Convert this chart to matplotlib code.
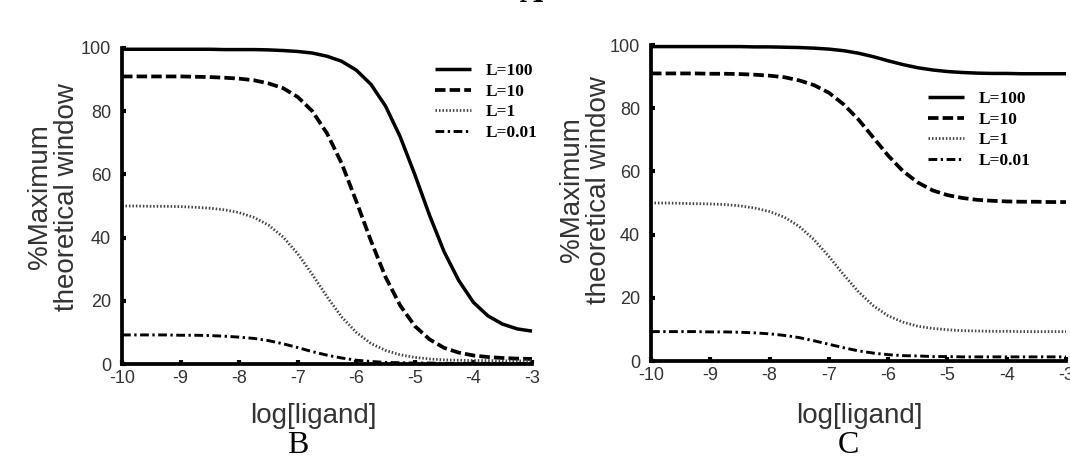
import matplotlib
matplotlib.use("Agg")
import matplotlib.pyplot as plt

plt.rcParams['axes.unicode_minus'] = False
plt.rcParams['font.family'] = ['Liberation Sans', 'DejaVu Sans']

# ---------------- data ----------------
log_ligand = [-10.0, -9.75, -9.5, -9.25, -9.0, -8.75, -8.5, -8.25, -8.0, -7.75,
              -7.5, -7.25, -7.0, -6.75, -6.5, -6.25, -6.0, -5.75, -5.5, -5.25,
              -5.0, -4.75, -4.5, -4.25, -4.0, -3.75, -3.5, -3.25, -3.0]

series_labels = ["L=100", "L=10", "L=1", "L=0.01"]

# Panel B
b_L100 = [99.6, 99.6, 99.6, 99.6, 99.6, 99.6, 99.6, 99.5, 99.5, 99.5,
          99.4, 99.2, 98.9, 98.4, 97.4, 95.8, 93.0, 88.5, 81.6, 71.9,
          59.9, 47.1, 35.5, 26.4, 19.5, 15.2, 12.6, 11.1, 10.4]
b_L10 = [91.0, 91.0, 91.0, 91.0, 91.0, 90.9, 90.8, 90.6, 90.3, 89.8,
         88.8, 87.3, 84.5, 80.0, 73.0, 63.5, 51.5, 39.0, 27.5, 18.5,
         12.0, 7.8, 5.1, 3.6, 2.7, 2.2, 1.9, 1.7, 1.6]
b_L1 = [50.0, 50.0, 49.9, 49.9, 49.8, 49.6, 49.3, 48.8, 47.9, 46.4,
        44.0, 40.2, 34.9, 28.3, 21.3, 14.9, 10.0, 6.5, 4.3, 2.9,
        2.1, 1.6, 1.3, 1.2, 1.1, 1.1, 1.0, 1.0, 1.0]
b_L001 = [9.2, 9.2, 9.2, 9.2, 9.1, 9.1, 9.0, 8.8, 8.5, 8.1,
          7.4, 6.4, 5.2, 3.9, 2.8, 1.9, 1.2, 0.8, 0.5, 0.4,
          0.3, 0.3, 0.2, 0.2, 0.2, 0.2, 0.2, 0.2, 0.2]

# Panel C
c_L100 = [99.5, 99.5, 99.5, 99.5, 99.5, 99.5, 99.5, 99.4, 99.4, 99.3,
          99.2, 99.0, 98.7, 98.2, 97.4, 96.3, 95.0, 93.8, 92.8, 92.1,
          91.6, 91.3, 91.1, 91.0, 91.0, 90.9, 90.9, 90.9, 90.9]
c_L10 = [91.0, 91.0, 91.0, 91.0, 90.9, 90.9, 90.8, 90.6, 90.3, 89.8,
         88.8, 87.3, 84.9, 81.2, 76.4, 70.7, 65.0, 60.1, 56.5, 54.0,
         52.5, 51.6, 51.0, 50.7, 50.5, 50.4, 50.4, 50.3, 50.3]
c_L1 = [50.0, 50.0, 49.9, 49.8, 49.7, 49.5, 49.1, 48.4, 47.3, 45.5,
        42.6, 38.4, 33.1, 27.3, 21.9, 17.5, 14.3, 12.3, 11.0, 10.3,
        9.9, 9.6, 9.5, 9.4, 9.4, 9.3, 9.3, 9.3, 9.3]
c_L001 = [9.3, 9.3, 9.3, 9.3, 9.2, 9.2, 9.1, 8.9, 8.6, 8.1,
          7.4, 6.4, 5.3, 4.2, 3.2, 2.5, 2.0, 1.7, 1.6, 1.4,
          1.4, 1.3, 1.3, 1.3, 1.3, 1.3, 1.3, 1.3, 1.3]

x_ticks = [-10, -9, -8, -7, -6, -5, -4, -3]
y_ticks = [0, 20, 40, 60, 80, 100]
panel_letters = ["B", "C"]

# ---------------- figure ----------------
W, H = 1070, 465
fig = plt.figure(figsize=(W / 100, H / 100), dpi=100)
fig.patch.set_facecolor('white')


def fx(px):
    return px / W


def fy(py):
    return 1 - py / H


styles = [
    dict(color='black', lw=2.5, linestyle='-'),
    dict(color='black', lw=2.7, linestyle=(0, (2.8, 1.1))),
    dict(color='#444444', lw=2.0, linestyle=(0, (0.55, 0.7))),
    dict(color='black', lw=2.1, linestyle=(0, (3.0, 1.2, 0.8, 1.2))),
]

panels = [
    dict(left=122, right=532, top=48, bottom=364, data=[b_L100, b_L10, b_L1, b_L001],
         leg=(435, 63), ylab=(54, 197), xlab=(313, 416), letter=(298, 445)),
    dict(left=651, right=1066, top=45, bottom=361, data=[c_L100, c_L10, c_L1, c_L001],
         leg=(928, 91), ylab=(585, 190), xlab=(859, 416), letter=(848, 445)),
]

for i, p in enumerate(panels):
    ax = fig.add_axes([fx(p['left']), fy(p['bottom']),
                       fx(p['right'] - p['left']), (p['bottom'] - p['top']) / H])
    ax.set_facecolor('none')
    handles = []
    for vals, st, lab in zip(p['data'], styles, series_labels):
        ln, = ax.plot(log_ligand, vals, label=lab, clip_on=False,
                      solid_capstyle='butt', dash_capstyle='butt', **st)
        handles.append(ln)
    ax.set_xlim(-10, -3)
    ax.set_ylim(0, 100)
    ax.set_xticks(x_ticks)
    ax.set_yticks(y_ticks)
    for s in ['top', 'right']:
        ax.spines[s].set_visible(False)
    for s in ['left', 'bottom']:
        ax.spines[s].set_linewidth(2.7)
        ax.spines[s].set_color('black')
        ax.spines[s].set_capstyle('projecting')
    ax.tick_params(direction='in', length=3, width=3, color='black',
                   labelsize=13, labelcolor='#333333')
    ax.tick_params(axis='y', pad=8)
    ax.tick_params(axis='x', pad=4)

    leg = ax.legend(handles=handles, loc='upper left',
                    bbox_to_anchor=(fx(p['leg'][0]), fy(p['leg'][1])),
                    bbox_transform=fig.transFigure, frameon=False,
                    borderpad=0, borderaxespad=0, handlelength=2.1,
                    handletextpad=0.8, labelspacing=0.26,
                    prop=dict(family='Liberation Serif', weight='bold', size=12.5))

    fig.text(fx(p['ylab'][0]), fy(p['ylab'][1]), "%Maximum\ntheoretical window",
             rotation=90, ha='center', va='center', multialignment='center',
             fontsize=20, color='#333333', linespacing=1.05)
    fig.text(fx(p['xlab'][0]), fy(p['xlab'][1]), "log[ligand]",
             ha='center', va='center', fontsize=20, color='#333333')
    fig.text(fx(p['letter'][0]), fy(p['letter'][1]), panel_letters[i],
             ha='center', va='center', fontsize=23, color='black',
             family='Liberation Serif')

# heading letter of the page, mostly above the top edge as in the reference
fig.text(fx(531), fy(2), "A", ha='center', va='baseline', fontsize=23,
         family='Liberation Serif', weight='bold', color='black')

fig.savefig('out.png', dpi=100, facecolor='white')
